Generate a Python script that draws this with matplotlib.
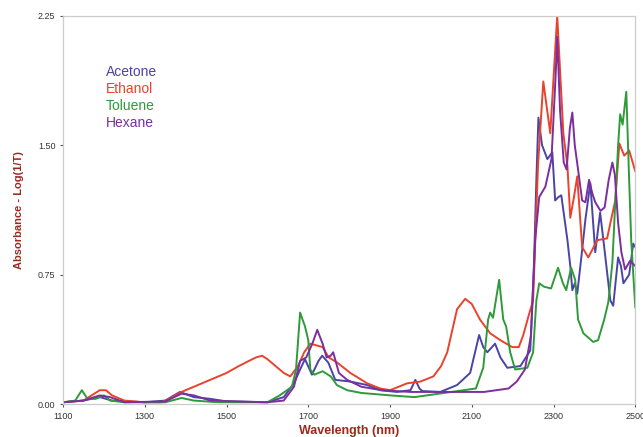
import matplotlib.pyplot as plt
import numpy as np

# # # # # # # # # #   DATA   # # # # # # # # # #

acetone_nm = [1100, 1150, 1190, 1220, 1300, 1350, 1386, 1420, 1460, 1500, 1600,
              1640, 1665, 1680, 1692, 1709, 1725, 1734, 1749, 1766, 1803, 1844,
              1876, 1917, 1950, 1962, 1972, 1979, 2023, 2064, 2096, 2110, 2118,
              2128, 2138, 2157, 2170, 2187, 2219, 2243, 2252, 2258, 2263, 2272,
              2285, 2297, 2304, 2312, 2319, 2334, 2341, 2346, 2352, 2358, 2368,
              2378, 2390, 2402, 2414, 2422, 2439, 2446, 2458, 2465, 2471, 2485,
              2495, 2500]
acetone_abs = [0.01, 0.02, 0.04, 0.02, 0.01, 0.02, 0.07, 0.04, 0.03, 0.015, 0.01,
               0.04, 0.12, 0.20, 0.26, 0.17, 0.25, 0.28, 0.24, 0.14, 0.13, 0.11,
               0.08, 0.07, 0.08, 0.14, 0.09, 0.075, 0.07, 0.11, 0.18, 0.32, 0.40,
               0.33, 0.30, 0.35, 0.27, 0.21, 0.22, 0.31, 0.80, 1.30, 1.66, 1.50,
               1.42, 1.46, 1.18, 1.20, 1.21, 0.95, 0.80, 0.66, 0.70, 0.64, 0.85,
               1.07, 1.28, 0.88, 1.11, 0.95, 0.60, 0.57, 0.85, 0.80, 0.70, 0.75,
               0.93, 0.91]

ethanol_nm = [1100, 1150, 1170, 1190, 1205, 1220, 1250, 1300, 1340, 1360, 1390,
              1420, 1460, 1500, 1530, 1555, 1572, 1587, 1600, 1620, 1640, 1656,
              1675, 1690, 1705, 1720, 1735, 1750, 1771, 1803, 1844, 1876, 1900,
              1942, 1974, 2006, 2025, 2040, 2064, 2084, 2100, 2120, 2145, 2170,
              2199, 2215, 2226, 2240, 2250, 2262, 2275, 2292, 2309, 2324, 2334,
              2341, 2350, 2358, 2370, 2385, 2407, 2431, 2451, 2461, 2473, 2485,
              2500]
ethanol_abs = [0.01, 0.02, 0.05, 0.08, 0.08, 0.05, 0.02, 0.01, 0.01, 0.03, 0.07,
               0.10, 0.14, 0.18, 0.22, 0.25, 0.27, 0.28, 0.26, 0.22, 0.18, 0.16,
               0.22, 0.30, 0.35, 0.34, 0.33, 0.27, 0.24, 0.18, 0.12, 0.09, 0.08,
               0.12, 0.13, 0.16, 0.22, 0.30, 0.55, 0.61, 0.58, 0.49, 0.41, 0.37,
               0.33, 0.33, 0.40, 0.52, 0.60, 1.38, 1.87, 1.57, 2.25, 1.57, 1.38,
               1.08, 1.20, 1.32, 0.91, 0.85, 0.95, 0.96, 1.18, 1.51, 1.44, 1.47,
               1.35]

toluene_nm = [1100, 1130, 1146, 1160, 1180, 1200, 1215, 1250, 1350, 1390, 1420,
              1480, 1600, 1630, 1660, 1670, 1680, 1692, 1700, 1705, 1715, 1735,
              1755, 1770, 1795, 1830, 1900, 1960, 2020, 2080, 2110, 2128, 2140,
              2145, 2152, 2167, 2177, 2184, 2194, 2206, 2236, 2250, 2258, 2265,
              2277, 2294, 2311, 2323, 2331, 2343, 2353, 2360, 2373, 2397, 2409,
              2424, 2434, 2444, 2451, 2458, 2463, 2469, 2478, 2485, 2490, 2500]
toluene_abs = [0.01, 0.02, 0.08, 0.03, 0.03, 0.05, 0.02, 0.01, 0.01, 0.035, 0.02,
               0.01, 0.01, 0.05, 0.10, 0.20, 0.53, 0.45, 0.37, 0.20, 0.17, 0.19,
               0.16, 0.11, 0.08, 0.064, 0.05, 0.04, 0.06, 0.08, 0.09, 0.21, 0.49,
               0.53, 0.50, 0.72, 0.49, 0.45, 0.30, 0.20, 0.21, 0.30, 0.60, 0.70,
               0.68, 0.67, 0.79, 0.70, 0.66, 0.79, 0.72, 0.49, 0.41, 0.36, 0.37,
               0.49, 0.59, 0.82, 1.17, 1.50, 1.68, 1.62, 1.81, 1.30, 0.95, 0.56]

hexane_nm = [1100, 1150, 1190, 1215, 1250, 1350, 1390, 1420, 1460, 1600, 1640,
             1665, 1680, 1695, 1710, 1722, 1735, 1745, 1755, 1761, 1775, 1795,
             1830, 1880, 1950, 2050, 2130, 2190, 2210, 2230, 2245, 2255, 2265,
             2280, 2295, 2305, 2309, 2316, 2325, 2332, 2340, 2346, 2352, 2360,
             2370, 2378, 2387, 2395, 2402, 2415, 2425, 2435, 2444, 2450, 2458,
             2466, 2475, 2487, 2500]
hexane_abs = [0.01, 0.02, 0.05, 0.04, 0.01, 0.015, 0.06, 0.05, 0.02, 0.01, 0.02,
              0.10, 0.25, 0.27, 0.35, 0.43, 0.35, 0.27, 0.28, 0.30, 0.18, 0.14,
              0.10, 0.08, 0.07, 0.07, 0.07, 0.09, 0.13, 0.20, 0.40, 0.95, 1.20,
              1.26, 1.42, 1.90, 2.13, 1.70, 1.40, 1.36, 1.60, 1.69, 1.50, 1.36,
              1.18, 1.17, 1.30, 1.22, 1.17, 1.12, 1.14, 1.30, 1.40, 1.33, 1.05,
              0.88, 0.78, 0.83, 0.80]

series_names = ['Acetone', 'Ethanol', 'Toluene', 'Hexane']
series_colors = ['#4b44a6', '#e8432c', '#2f9a3a', '#7c2e9e']

x_ticks = [1100, 1300, 1500, 1700, 1900, 2100, 2300, 2500]
y_ticks = [0.00, 0.75, 1.50, 2.25]

# # # # # # # # # #   CREATE GRAPH   # # # # # # # # # #

plt.rcParams['font.family'] = ['Liberation Sans', 'DejaVu Sans']

fig = plt.figure(figsize=(6.43, 4.37), dpi=100)
ax = fig.add_axes([0.098, 0.0755, 0.890, 0.888])

curves = [(acetone_nm, acetone_abs), (ethanol_nm, ethanol_abs),
          (toluene_nm, toluene_abs), (hexane_nm, hexane_abs)]
for (xs, ys), name, col in zip(curves, series_names, series_colors):
    ax.plot(xs, ys, color=col, lw=1.4, label=name, solid_joinstyle='round')

ax.set_xlim(1100, 2500)
ax.set_ylim(0, 2.25)
ax.set_xticks(x_ticks)
ax.set_yticks(y_ticks)
ax.set_yticklabels(['%.2f' % v for v in y_ticks])

for sp in ax.spines.values():
    sp.set_color('#cccccc')
    sp.set_linewidth(0.9)
ax.tick_params(axis='both', labelsize=6.5, labelcolor='#333333',
               color='#555555', length=2, width=0.8)

ax.set_xlabel('Wavelength (nm)', color='#9b2a1e', fontsize=9,
              fontweight='bold', labelpad=3)
ax.set_ylabel('Absorbance - Log(1/T)', color='#9b2a1e', fontsize=8,
              fontweight='bold', labelpad=10)

# coloured text legend
for i, (name, col) in enumerate(zip(series_names, series_colors)):
    fig.text(106 / 643, 1 - (72 + 17 * i) / 437, name, color=col,
             fontsize=10, va='center', ha='left')

fig.savefig('out.png', dpi=100)
